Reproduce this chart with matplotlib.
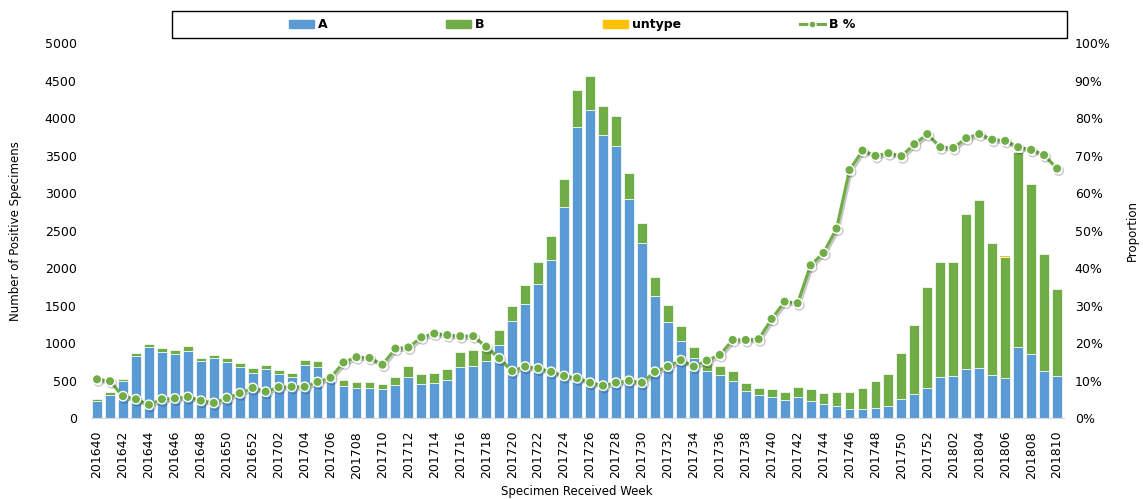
import numpy as np
import matplotlib
matplotlib.use('Agg')
import matplotlib.pyplot as plt
import matplotlib.patheffects as pe
from matplotlib.patches import Rectangle
from matplotlib.lines import Line2D
from matplotlib.patches import Patch

# Weeks 201640 .. 201652, 201701 .. 201752, 201801 .. 201810
weeks = [f'2016{w:02d}' for w in range(40, 53)] + \
        [f'2017{w:02d}' for w in range(1, 53)] + \
        [f'2018{w:02d}' for w in range(1, 11)]

# (counts)
type_a = [230, 307, 493, 826, 950, 880, 861, 897, 768, 800,
          755, 680, 608, 653, 590, 555, 706, 680, 495, 431,
          400, 400, 386, 440, 555, 457, 466, 506, 684, 702,
          770, 977, 1301, 1524, 1786, 2106, 2817, 3888, 4106, 3781,
          3634, 2919, 2341, 1634, 1290, 1035, 808, 631, 577, 493,
          364, 306, 280, 240, 288, 226, 186, 169, 120, 118,
          133, 169, 253, 320, 400, 547, 560, 657, 675, 573,
          541, 946, 853, 630, 560]
totals = [257, 347, 528, 870, 990, 937, 915, 964, 808, 840,
          804, 733, 667, 710, 648, 608, 775, 760, 555, 511,
          484, 484, 457, 551, 697, 590, 608, 661, 888, 910,
          945, 1177, 1501, 1781, 2080, 2430, 3190, 4377, 4563, 4163,
          4030, 3266, 2600, 1880, 1512, 1230, 950, 746, 701, 631,
          470, 400, 391, 350, 422, 391, 342, 350, 350, 406,
          497, 590, 866, 1240, 1750, 2084, 2084, 2723, 2906, 2337,
          2163, 3550, 3128, 2186, 1723]
untype = [0] * 70 + [10] + [0] * 4
type_b = [t - a - u for t, a, u in zip(totals, type_a, untype)]

# B % line (proportion)
b_pct = [10.4, 9.9, 5.9, 5.1, 3.6, 5.1, 5.3, 5.7, 4.7, 4.1,
         5.4, 6.7, 8.1, 7.1, 8.3, 8.4, 8.4, 9.7, 10.8, 14.9,
         16.3, 16.1, 14.3, 18.6, 18.9, 21.6, 22.6, 22.2, 21.9, 21.9,
         19.1, 16.0, 12.6, 13.8, 13.3, 12.4, 11.3, 10.7, 9.5, 8.7,
         9.5, 10.0, 9.5, 12.4, 13.8, 15.5, 13.8, 15.4, 16.9, 20.9,
         20.9, 21.1, 26.5, 31.1, 30.7, 40.8, 44.1, 50.6, 66.2, 71.4,
         70.0, 70.7, 69.9, 73.1, 75.8, 72.3, 72.1, 74.7, 75.8, 74.3,
         74.0, 72.3, 71.6, 70.2, 66.6]

blue = '#5B9BD5'
green = '#70AD47'
orange = '#FFC000'

fig = plt.figure(figsize=(11.43, 4.99), dpi=100)
ax = fig.add_axes([0.0792, 0.1617, 0.8513, 0.7515])

x = np.arange(len(weeks))
a_arr = np.array(type_a)
b_arr = np.array(type_b)
ax.bar(x, type_a, width=0.76, color=blue, edgecolor='white', linewidth=0.5, zorder=2)
ax.bar(x, type_b, width=0.76, bottom=a_arr, color=green, edgecolor='white', linewidth=0.5, zorder=2)
ax.bar(x, untype, width=0.76, bottom=a_arr + b_arr, color=orange, linewidth=0, zorder=2)

ax.set_xlim(-0.5, len(weeks) - 0.5)
ax.set_ylim(0, 5000)
ax.set_yticks(np.arange(0, 5001, 500))
ax.set_xticks(x[::2])
ax.set_xticklabels(weeks[::2], rotation=90)
ax.tick_params(axis='both', length=0, labelsize=9, colors='black')
ax.tick_params(axis='y', pad=10)
ax.tick_params(axis='x', pad=9)
for s in ['top', 'left', 'right']:
    ax.spines[s].set_visible(False)
ax.spines['bottom'].set_color('#D9D9D9')
ax.set_ylabel('Number of Positive Specimens', fontsize=8.5)
ax.yaxis.set_label_coords(-0.07, 0.5)
ax.set_xlabel('Specimen Received Week', fontsize=8.5, va='top')
ax.xaxis.set_label_coords(0.5, -0.178)

ax2 = ax.twinx()
ax2.set_ylim(0, 100)
ax2.set_yticks(np.arange(0, 101, 10))
ax2.set_yticklabels([f'{v}%' for v in range(0, 101, 10)])
ax2.tick_params(axis='y', length=0, labelsize=9, pad=8)
for s in ['top', 'left', 'right', 'bottom']:
    ax2.spines[s].set_visible(False)
ax2.set_ylabel('Proportion', fontsize=8.5)
ax2.yaxis.set_label_coords(1.064, 0.5)

ax2.plot(x, b_pct, color=green, linewidth=2.2, marker='o', markersize=6.8,
         markerfacecolor=green, markeredgecolor='white', markeredgewidth=1.0,
         zorder=3,
         path_effects=[pe.SimpleLineShadow(offset=(1.2, -1.5), alpha=0.22, shadow_color='black'),
                       pe.Normal()])

# legend box
fig.patches.append(Rectangle((172 / 1143, 1 - 38 / 499), 895 / 1143, 27 / 499,
                             transform=fig.transFigure, fill=False,
                             edgecolor='black', linewidth=1))
handles = [Patch(color=blue), Patch(color=green), Patch(color=orange),
           Line2D([], [], color=green, linewidth=2.2, marker='o', markersize=5,
                  markerfacecolor=green, markeredgecolor='white')]
leg = fig.legend(handles, ['A', 'B', 'untype', 'B %'], ncol=4,
                 loc='center', bbox_to_anchor=(0.5005, 1 - 24.5 / 499),
                 frameon=False, prop={'weight': 'bold', 'size': 9},
                 handlelength=2.0, handleheight=0.6, handletextpad=0.3,
                 columnspacing=9.5)

fig.savefig('out.png', dpi=100)
